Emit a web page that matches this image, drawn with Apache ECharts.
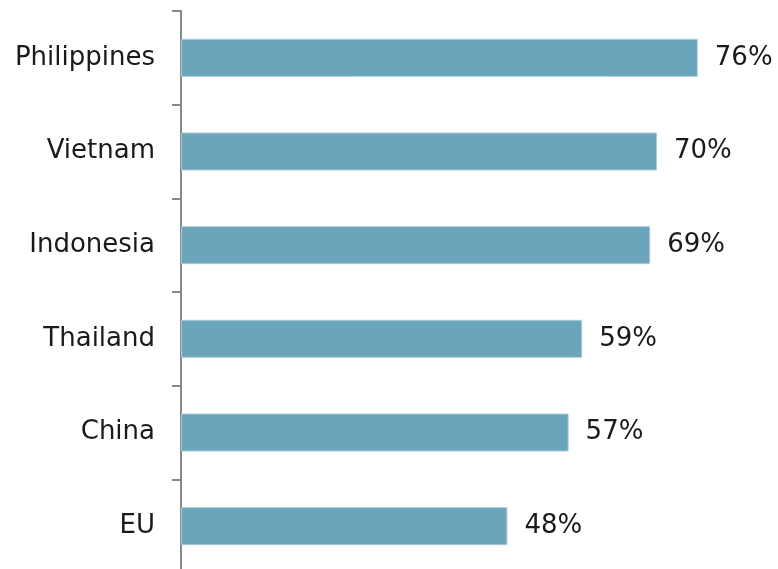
<!DOCTYPE html>
<html>
<head>
<meta charset="utf-8">
<script src="https://cdn.jsdelivr.net/npm/echarts@6/dist/echarts.min.js"></script>
<style>
html,body{margin:0;padding:0;background:#fff;}
#chart{width:778px;height:569px;}
</style>
</head>
<body>
<div id="chart"></div>
<script>
const categories = ['Philippines', 'Vietnam', 'Indonesia', 'Thailand', 'China', 'EU'];
const values = [76, 70, 69, 59, 57, 48];

const chart = echarts.init(document.getElementById('chart'), null, {renderer: 'canvas'});
chart.setOption({
  animation: false,
  backgroundColor: '#ffffff',
  grid: {left: 181, top: 11, width: 544, height: 562, containLabel: false, outerBoundsMode: 'none'},
  xAxis: {
    type: 'value', min: 0, max: 80, show: false
  },
  yAxis: {
    type: 'category',
    data: categories,
    inverse: true,
    axisLine: {show: true, lineStyle: {color: '#888888', width: 2}},
    axisTick: {show: true, length: 9, lineStyle: {color: '#888888', width: 2}},
    axisLabel: {
      margin: 26,
      color: '#1a1a1a',
      fontFamily: 'DejaVu Sans',
      fontSize: 26
    },
    splitLine: {show: false}
  },
  series: [{
    type: 'bar',
    data: values,
    barWidth: 38,
    itemStyle: {color: '#6ba5bc', borderColor: '#a9cbd8', borderWidth: 1},
    label: {
      show: true,
      position: 'right',
      distance: 17,
      formatter: '{c}%',
      color: '#1a1a1a',
      fontFamily: 'DejaVu Sans',
      fontSize: 26
    }
  }]
});
</script>
</body>
</html>
